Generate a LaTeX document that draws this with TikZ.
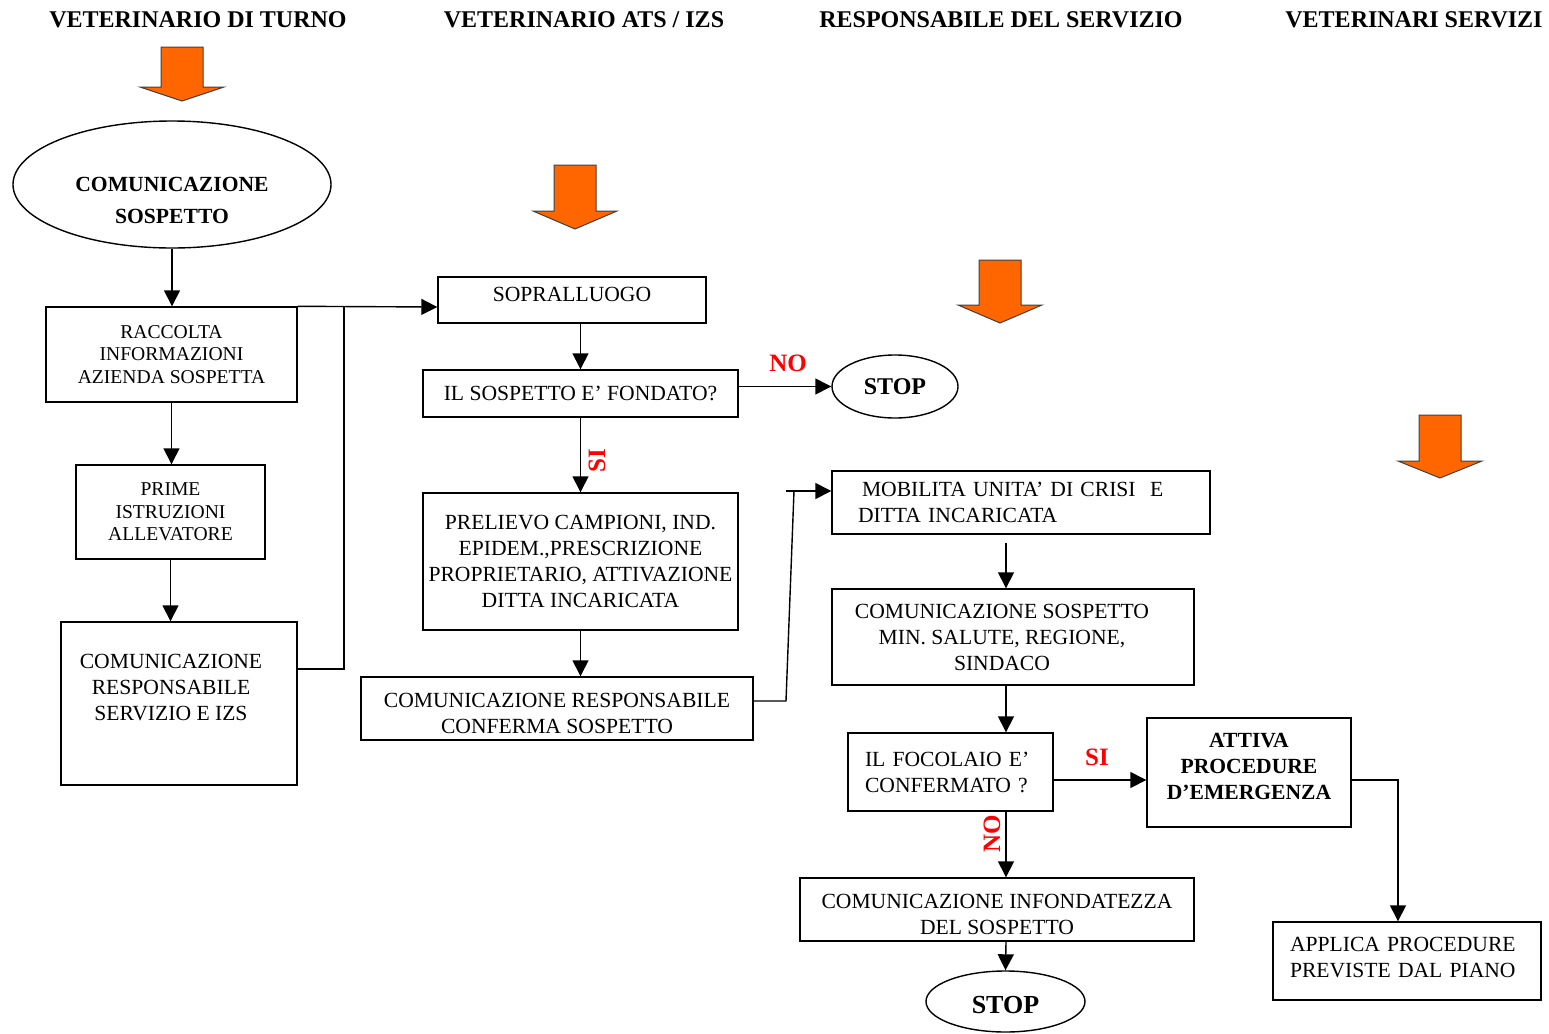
\documentclass[tikz,border=0pt]{standalone}
\usepackage{fontspec}
\setmainfont{Liberation Serif}
\usetikzlibrary{arrows.meta,shapes.geometric}
\definecolor{orng}{HTML}{FF6600}
\newcommand{\oarrowdraw}[4]{%
  \filldraw[oarr] (#1-21,#2) -- (#1-21,#3) -- (#1-42,#3) -- (#1,#4) -- (#1+42,#3) -- (#1+21,#3) -- (#1+21,#2) -- cycle;}
\newcommand{\padr}[1]{\hspace*{#1}\mbox{}}
\begin{document}
\begin{tikzpicture}[x=0.5pt,y=-0.5pt,
  box/.style={draw, line width=0.7pt, inner sep=0pt, align=center, font=\fontsize{10.8}{13}\selectfont},
  sbox/.style={box, font=\fontsize{9.8}{11.3}\selectfont},
  lbox/.style={box, align=left, inner xsep=8.5pt, inner ysep=0pt},
  bbox/.style={box, font=\bfseries\fontsize{10.8}{13}\selectfont},
  oval/.style={draw, ellipse, line width=0.7pt, inner sep=0pt, font=\bfseries\fontsize{12}{14}\selectfont},
  head/.style={font=\bfseries\fontsize{12}{14}\selectfont, inner sep=0pt},
  lab/.style={text=red, font=\bfseries\fontsize{12.5}{14}\selectfont, inner sep=0pt},
  conn/.style={line width=0.7pt},
  arr/.style={conn, -{Triangle[length=8pt,width=8pt]}},
  oarr/.style={fill=orng, draw=black!75, line width=0.5pt, line join=miter}
]
\useasboundingbox (0,0) rectangle (1549,1034);

% headers
\node[head] (h1) at (198,20) {VETERINARIO DI TURNO};
\node[head] (h2) at (584,20) {VETERINARIO ATS / IZS};
\node[head] (h3) at (1001,20) {RESPONSABILE DEL SERVIZIO};
\node[head] (h4) at (1414,20) {VETERINARI SERVIZI};

% orange arrows
\oarrowdraw{182}{47}{87}{101}
\oarrowdraw{575}{165}{211}{229}
\oarrowdraw{1000}{260}{305}{323}
\oarrowdraw{1440}{415}{461}{478}

% left column
\node[oval, minimum width=159pt, minimum height=63.5pt, align=center,
  font=\bfseries\fontsize{10.8}{16}\selectfont] (e1) at (172,184.5)
  {\rule{0pt}{22.6pt}COMUNICAZIONE\\SOSPETTO};
\node[sbox, minimum width=125.5pt, minimum height=47.5pt] (racc) at (171.5,354.5)
  {RACCOLTA\\INFORMAZIONI\\AZIENDA SOSPETTA};
\node[sbox, minimum width=94.5pt, minimum height=47pt] (prime) at (170.5,512)
  {PRIME\\ISTRUZIONI\\ALLEVATORE};
\node[box, minimum width=118pt, minimum height=81.5pt] (comresp) at (179,703.5)
  {COMUNICAZIONE\padr{8pt}\\RESPONSABILE\padr{8pt}\\SERVIZIO E IZS\padr{8pt}\rule[-16pt]{0pt}{0pt}};

% second column
\node[box, minimum width=134pt, minimum height=23pt] (sopr) at (572,300)
  {SOPRALLUOGO\rule[-6pt]{0pt}{0pt}};
\node[box, minimum width=157.5pt, minimum height=23.5pt] (fond) at (580.5,393.5)
  {IL SOSPETTO E’ FONDATO?};
\node[oval, minimum width=63pt, minimum height=31.5pt] (stop1) at (895,386.5) {STOP};
\node[box, minimum width=157.5pt, minimum height=68.5pt] (prel) at (580.5,561.5)
  {PRELIEVO CAMPIONI, IND.\\EPIDEM.,PRESCRIZIONE\\PROPRIETARIO, ATTIVAZIONE\\DITTA INCARICATA};
\node[box, minimum width=196pt, minimum height=31.5pt] (comconf) at (557,708.5)
  {\rule{0pt}{12.2pt}COMUNICAZIONE RESPONSABILE\\CONFERMA SOSPETTO};

% third column
\node[lbox, text width=159pt, inner xsep=15pt, minimum height=31.5pt] (mob) at (1021,502.5)
  {MOBILITA UNITA’ DI CRISI\ \ E\\\hspace*{-2pt}DITTA INCARICATA};
\node[box, minimum width=181pt, minimum height=48pt] (comsosp) at (1013,637)
  {COMUNICAZIONE SOSPETTO\padr{11pt}\\MIN. SALUTE, REGIONE,\padr{11pt}\\SINDACO\padr{11pt}};
\node[lbox, text width=85.5pt, minimum height=39pt] (foc) at (950.5,772)
  {IL FOCOLAIO E’\\CONFERMATO ?};
\node[bbox, minimum width=102pt, minimum height=54.5pt] (att) at (1249,772.5)
  {ATTIVA\\PROCEDURE\\D’EMERGENZA\rule[-6.5pt]{0pt}{0pt}};
\node[box, minimum width=197pt, minimum height=31.5pt] (infond) at (997,909.5)
  {\rule{0pt}{12.2pt}COMUNICAZIONE INFONDATEZZA\\DEL SOSPETTO};
\node[oval, minimum width=79.5pt, minimum height=30.5pt,
  font=\bfseries\fontsize{13}{15}\selectfont] (stop2) at (1005.5,1001.5) {\rule{0pt}{12.1pt}STOP};
\node[lbox, text width=117pt, minimum height=39pt] (app) at (1407,961)
  {APPLICA PROCEDURE\\PREVISTE DAL PIANO\rule[-3.5pt]{0pt}{0pt}};

% labels
\node[lab] (no1) at (788,363) {NO};
\node[lab] (si2) at (1097,757) {SI};
\node[lab, rotate=90] (si1) at (597,461) {SI};
\node[lab, rotate=90] (no2) at (992,834) {NO};

% helper coordinates
\coordinate (j1) at (344,669);
\coordinate (j2) at (344,307);
\coordinate (k0) at (786,491);
\coordinate (k1) at (786,701);
\coordinate (k2) at (794,491);
\coordinate (colR) at (1006,0);
\coordinate (m1) at (0,780);
\coordinate (m2) at (1398,780);

% connectors
\draw[arr] (e1.south) -- (e1.south |- racc.north);
\draw[arr] (racc.south) -- (racc.south |- prime.north);
\draw[arr] (prime.south) -- (prime.south |- comresp.north);
\draw[conn] (comresp.east |- j1) -- (j1) -- (j2);
\draw[arr] (racc.north east) -- (sopr.west |- j2);
\draw[arr] (fond.north |- sopr.south) -- (fond.north);
\draw[arr] (fond.east |- stop1.west) -- (stop1.west);
\draw[arr] (fond.south) -- (prel.north);
\draw[arr] (prel.south) -- (prel.south |- comconf.north);
\draw[conn] (comconf.east |- k1) -- (k1) -- (k2);
\draw[arr] (k0) -- (mob.west |- k0);
\draw[arr] ([yshift=-4pt]mob.south -| colR) -- (comsosp.north -| colR);
\draw[arr] (comsosp.south -| colR) -- (foc.north -| colR);
\draw[arr] (foc.south -| colR) -- (infond.north -| colR);
\draw[arr] (foc.east |- m1) -- (att.west |- m1);
\draw[arr] (att.east |- m2) -- (m2) -- (m2 |- app.north);
\draw[arr] (infond.south -| colR) -- (stop2.north);
\end{tikzpicture}
\end{document}
